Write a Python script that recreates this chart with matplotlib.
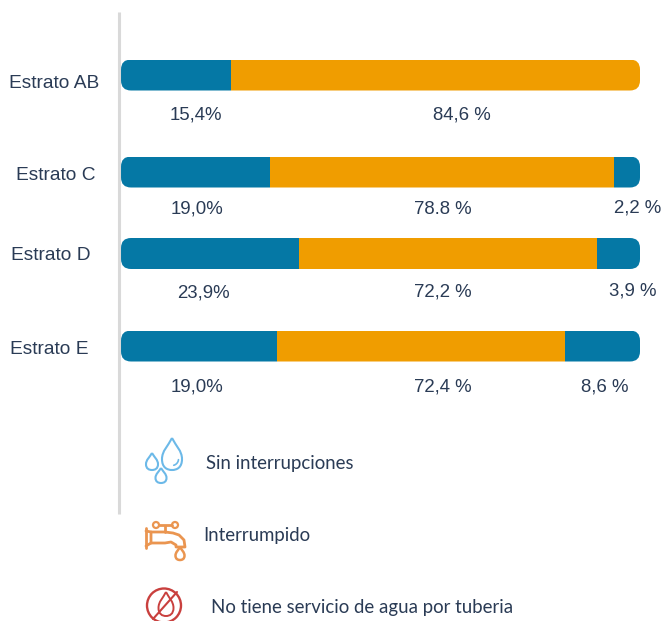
#!/usr/bin/python3

import numpy as np
from matplotlib import pyplot as plt
from matplotlib.patches import FancyBboxPatch, PathPatch, Circle
from matplotlib.path import Path
from matplotlib.transforms import Affine2D

# Data
strata = ['Estrato AB', 'Estrato C', 'Estrato D', 'Estrato E']
# segment lengths as drawn in the picture (they do not follow the printed labels)
sin_interrupciones = [21.2, 28.7, 34.3, 30.1]
interrumpido = [78.8, 66.3, 57.4, 55.5]
sin_servicio = [0.0, 5.0, 8.3, 14.4]

labels_sin = ['15,4%', '19,0%', '23,9%', '19,0%']
labels_int = ['84,6 %', '78.8 %', '72,2 %', '72,4 %']
labels_no = ['', '2,2 %', '3,9 %', '8,6 %']
legend_names = ['Sin interrupciones', 'Interrumpido',
                'No tiene servicio de agua por tuberia']

# Layout, in pixels of the image
W, H = 664, 621
X0, X1 = 121, 640
bar_y = [75, 172, 253.5, 346]
bar_h = 31
strata_x = [54, 56, 51, 49]
strata_y = [83, 175, 255, 350]
sin_xy = [(196, 115), (197, 209), (203, 293), (197, 387)]
int_xy = [(462, 115), (443, 209), (443, 292), (443, 387)]
no_xy = [(638, 0), (638, 208), (633, 291), (605, 387)]
legend_xy = [(206, 463), (203, 536), (211, 607)]

BLUE = '#0578a5'
ORANGE = '#f09d00'
TEXT = '#2a3b55'
FONT = ['Liberation Sans', 'DejaVu Sans']
LEGEND_FONT = ['Lato', 'DejaVu Sans']

fig = plt.figure(figsize=(W / 100, H / 100), dpi=100)
ax = fig.add_axes([0, 0, 1, 1])
scale = (X1 - X0) / 100.0
ax.set_xlim(-X0 / scale, (W - X0) / scale)
ax.set_ylim(H, 0)
ax.axis('off')

# image pixels -> display, for the things that must stay round
px = Affine2D().scale(1, -1).translate(0, H)


def drop(cx, top, w, h, color, lw=1.5):
    # A water drop outline, point on top
    b = top + h
    verts = [(cx, top),
             (cx - w * 0.2, top + h * 0.25), (cx - w / 2, top + h * 0.4), (cx - w / 2, top + h * 0.66),
             (cx - w / 2, b - h * 0.08), (cx - w * 0.25, b), (cx, b),
             (cx + w * 0.25, b), (cx + w / 2, b - h * 0.08), (cx + w / 2, top + h * 0.66),
             (cx + w / 2, top + h * 0.4), (cx + w * 0.2, top + h * 0.25), (cx, top)]
    codes = [Path.MOVETO] + [Path.CURVE4] * 12
    ax.add_patch(PathPatch(Path(verts, codes), transform=px, fc='none', ec=color, lw=lw))


def polyline(xs, ys, color, lw=1.5):
    ax.plot(xs, ys, color=color, lw=lw, solid_capstyle='round',
            solid_joinstyle='round', transform=px, clip_on=False)


# vertical axis line
ax.plot([119, 119], [12, 514], color='#d9d9d9', lw=2.2, transform=px, solid_capstyle='butt')

# stacked bars
for i in range(len(strata)):
    clip = FancyBboxPatch((X0 + 10, bar_y[i] - bar_h / 2 + 10), X1 - X0 - 20, bar_h - 20,
                          boxstyle='round,pad=10,rounding_size=10', transform=px,
                          fc='none', ec='none')
    ax.add_patch(clip)
    left = 0.0
    for vals, col in ((sin_interrupciones, BLUE), (interrumpido, ORANGE), (sin_servicio, BLUE)):
        if vals[i] > 0:
            bars = ax.barh(bar_y[i], vals[i], left=left, height=bar_h, color=col)
            bars[0].set_clip_path(clip)
        left += vals[i]

# texts
for i in range(len(strata)):
    ax.text(strata_x[i], strata_y[i], strata[i], transform=px, ha='center', va='center',
            fontsize=13.8, color=TEXT, family=FONT)
    ax.text(sin_xy[i][0], sin_xy[i][1], labels_sin[i], transform=px, ha='center', va='center',
            fontsize=13.4, color=TEXT, family=FONT)
    ax.text(int_xy[i][0], int_xy[i][1], labels_int[i], transform=px, ha='center', va='center',
            fontsize=13.4, color=TEXT, family=FONT)
    if labels_no[i]:
        ax.text(no_xy[i][0], no_xy[i][1], labels_no[i], transform=px, ha='center', va='center',
                fontsize=13.4, color=TEXT, family=FONT)

for name, (x, y) in zip(legend_names, legend_xy):
    ax.text(x, y, name, transform=px, ha='left', va='center',
            fontsize=13.4, color=TEXT, family=LEGEND_FONT)

# water drops icon
DROPS = '#6cb9e8'
drop(172, 438, 20, 32, DROPS)
drop(152, 453, 12, 17, DROPS)
drop(161, 468, 11, 15, DROPS)
arc = np.linspace(0.1, 1.3, 20)
polyline(172 + 6.5 * np.cos(arc), 459 + 6.5 * np.sin(arc), DROPS, 1.2)

# tap icon
TAP = '#ea9550'
polyline([146, 146], [528, 548], TAP, 2)
polyline([146, 151, 151, 146], [531, 532, 543, 546], TAP, 2)
polyline([151, 165, 173, 179, 184, 185, 176, 176, 171, 165, 151],
         [532, 532, 533, 535, 540, 547, 547, 545, 542, 543, 543], TAP, 2)
polyline([165, 165], [526, 532], TAP, 2)
polyline([159, 172], [525, 525], TAP, 2)
ax.add_patch(Circle((156, 525), 3, transform=px, fc='white', ec=TAP, lw=1.6))
ax.add_patch(Circle((175, 525), 3, transform=px, fc='white', ec=TAP, lw=1.6))
drop(180, 547, 9, 13, TAP, 1.8)

# no water icon
RED = '#c9403e'
ax.add_patch(Circle((164, 605.5), 17, transform=px, fc='none', ec=RED, lw=1.7))
drop(166, 592, 15, 24, RED, 1.4)
polyline([153, 177], [619, 592], RED, 1.5)

fig.savefig('out.png', dpi=100, facecolor='white')
